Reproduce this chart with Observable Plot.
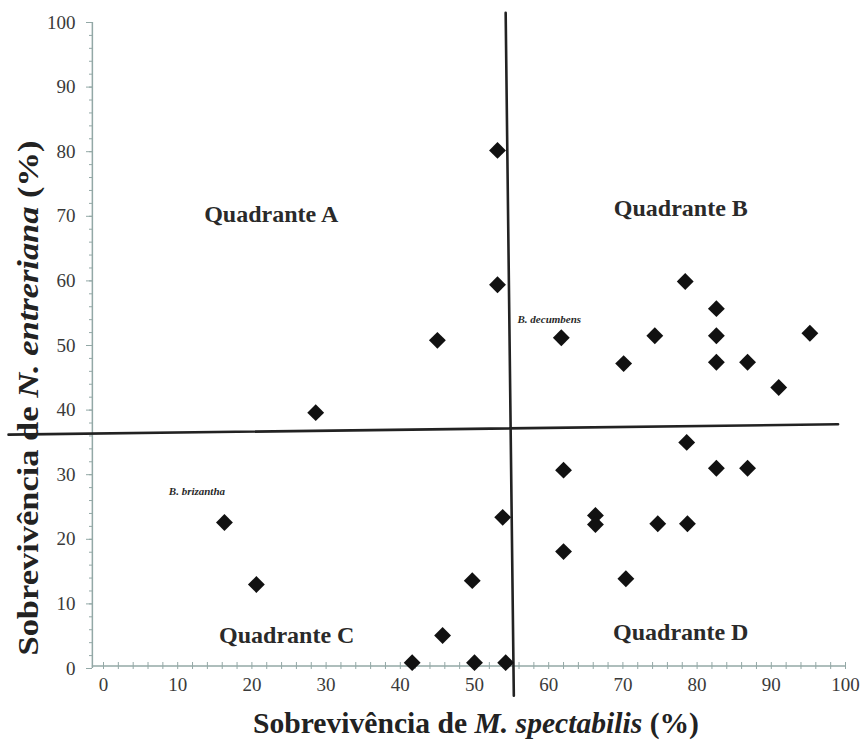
<!DOCTYPE html>
<html>
<head>
<meta charset="utf-8">
<script src="https://cdn.jsdelivr.net/npm/d3@7"></script>
<script src="https://cdn.jsdelivr.net/npm/@observablehq/plot@0.6"></script>
<style>
  html, body { margin: 0; padding: 0; background: #fff; }
  #chart { width: 863px; height: 742px; }
  #chart svg text { font-family: "Liberation Serif", "Times New Roman", serif !important; }
</style>
</head>
<body>
<div id="chart"></div>
<script>
// Survival of M. spectabilis (x, %) vs N. entreriana (y, %)
const survivalM = [53.1, 53.1, 45.0, 28.6, 61.7, 70.1, 74.3, 78.4, 82.6, 82.6, 82.6, 86.8, 91.0, 95.2,
                   78.6, 62.0, 82.6, 86.8, 53.8, 66.3, 66.3, 74.7, 78.7, 62.0, 70.4,
                   16.3, 20.6, 49.7, 45.7, 41.6, 50.0, 54.2];
const survivalN = [80.2, 59.4, 50.8, 39.6, 51.2, 47.2, 51.5, 59.9, 55.7, 51.5, 47.4, 47.4, 43.5, 51.9,
                   35.0, 30.7, 31.0, 31.0, 23.4, 23.7, 22.3, 22.4, 22.4, 18.1, 13.9,
                   22.6, 13.0, 13.6, 5.1, 0.9, 0.9, 0.9];

const xTicks = [0, 10, 20, 30, 40, 50, 60, 70, 80, 90, 100];
const yTicks = [0, 10, 20, 30, 40, 50, 60, 70, 80, 90, 100];
const minorTicks = d3.range(0, 101, 2);

const quadrantNames = ["Quadrante A", "Quadrante B", "Quadrante C", "Quadrante D"];
const quadrantX = [22.6, 77.8, 24.7, 77.8];
const quadrantY = [70.3, 71.2, 5.1, 5.6];

const speciesNames = ["B. decumbens", "B. brizantha"];
const speciesX = [55.8, 8.8];
const speciesY = [54.0, 27.4];

// dividing lines (as drawn, slightly tilted in the source)
const hLineX = [-12.8, 99.0];
const hLineY = [36.2, 37.8];
const vLineX = [54.2, 55.3];
const vLineY = [101.5, -4.2];

const points = survivalM.map((x, i) => ({x, y: survivalN[i]}));
const quadrants = quadrantNames.map((t, i) => ({t, x: quadrantX[i], y: quadrantY[i]}));
const species = speciesNames.map((t, i) => ({t, x: speciesX[i], y: speciesY[i]}));
const hLine = hLineX.map((x, i) => ({x, y: hLineY[i]}));
const vLine = vLineX.map((x, i) => ({x, y: vLineY[i]}));

const axisColor = "#93a8a6";
const serif = "Liberation Serif";

const chart = Plot.plot({
  width: 863,
  height: 742,
  marginLeft: 103,
  marginRight: 18,
  marginTop: 22,
  marginBottom: 74,
  style: {fontFamily: serif, background: "#fff", color: "#333"},
  x: {domain: [0, 100], axis: null},
  y: {domain: [0, 100], axis: null},
  marks: [
    // axis lines
    Plot.ruleX([-1.5], {y1: 0, y2: 100, stroke: axisColor, strokeWidth: 1.5}),
    Plot.ruleY([0.4], {x1: -1.5, x2: 100, stroke: axisColor, strokeWidth: 1.5}),
    // y axis
    Plot.axisY({ticks: yTicks, anchor: "left", tickSize: 6, tickPadding: 11, dx: -11,
                stroke: axisColor, fill: "#3a3a3a", fontSize: 19, fontFamily: serif, label: null}),
    Plot.axisY({ticks: minorTicks, anchor: "left", tickSize: 3, text: null, dx: -11,
                stroke: axisColor, label: null}),
    // x axis
    Plot.axisX({ticks: xTicks, anchor: "bottom", tickSize: 0, tickPadding: 9,
                fill: "#3a3a3a", fontSize: 19, fontFamily: serif, label: null}),
    Plot.axisX({ticks: minorTicks, anchor: "bottom", tickSize: 7, text: null, dy: -6,
                stroke: axisColor, label: null}),
    // dividing lines
    Plot.line(hLine, {x: "x", y: "y", stroke: "#222", strokeWidth: 2.6}),
    Plot.line(vLine, {x: "x", y: "y", stroke: "#222", strokeWidth: 2.6}),
    // points
    Plot.dot(points, {x: "x", y: "y", symbol: "diamond2", r: 7.6, fill: "#111", stroke: "none"}),
    // labels
    Plot.text(quadrants, {x: "x", y: "y", text: "t", fontWeight: "bold", fontSize: 24,
                          fontFamily: serif, fill: "#2a2a2a"}),
    Plot.text(species, {x: "x", y: "y", text: "t", fontWeight: "bold", fontStyle: "italic",
                        fontSize: 11, fontFamily: serif, textAnchor: "start", fill: "#2a2a2a"})
  ]
});

document.getElementById("chart").appendChild(chart);

// axis titles with mixed italic
const svg = d3.select(chart);
svg.selectAll("text").style("font-family", "'Liberation Serif', serif");
const xt = svg.append("text")
  .attr("x", 476).attr("y", 733)
  .attr("text-anchor", "middle")
  .attr("font-family", serif).attr("font-weight", "bold").attr("font-size", 29)
  .attr("textLength", 446).attr("lengthAdjust", "spacingAndGlyphs")
  .attr("fill", "#222");
xt.append("tspan").text("Sobrevivência de ");
xt.append("tspan").attr("font-style", "italic").text("M. spectabilis");
xt.append("tspan").text(" (%)");

const yt = svg.append("text")
  .attr("transform", "translate(38,398) rotate(-90)")
  .attr("text-anchor", "middle")
  .attr("font-family", serif).attr("font-weight", "bold").attr("font-size", 29)
  .attr("textLength", 515).attr("lengthAdjust", "spacingAndGlyphs")
  .attr("fill", "#222");
yt.append("tspan").text("Sobrevivência de ");
yt.append("tspan").attr("font-style", "italic").text("N. entreriana");
yt.append("tspan").text(" (%)");
</script>
</body>
</html>
